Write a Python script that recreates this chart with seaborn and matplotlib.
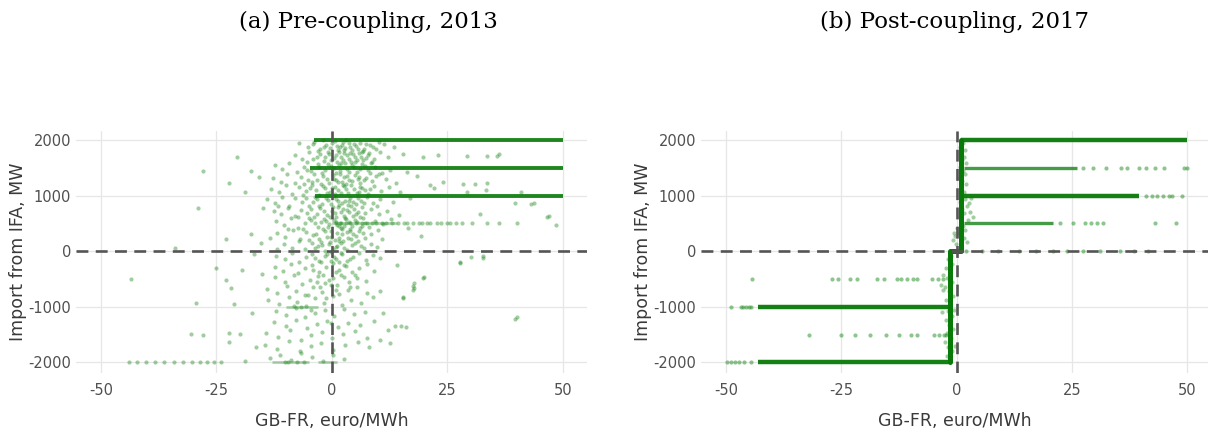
import numpy as np
import pandas as pd
import matplotlib
matplotlib.use("Agg")
import matplotlib.pyplot as plt
import seaborn as sns

# ---------------- data ----------------
titles = ["(a) Pre-coupling, 2013", "(b) Post-coupling, 2017"]
x_ticks = [-50, -25, 0, 25, 50]
y_ticks = [-2000, -1000, 0, 1000, 2000]
x_label = "GB-FR, euro/MWh"
y_label = "Import from IFA, MW"

# (a) dense horizontal bands (y, x start, x end)
band_a_y = [2000, 1500, 1000]
band_a_x0 = [-3.8, -4.7, -3.7]
band_a_x1 = [50.0, 50.0, 50.0]
# (a) faint short clusters (y, x start, x end)
faint_a_y = [-1000, -2000, -2000, 500]
faint_a_x0 = [-10.0, -13.0, -3.0, 0.0]
faint_a_x1 = [-3.0, -5.0, 1.0, 14.0]

# (a) scattered cloud, upper half (x, y)
cloud_a_upper = [
    (-5.1,1880),(-3.8,1960),(-2.5,1830),(-1.2,1910),(-0.4,1850),(0.6,1975),(1.3,1820),(2.1,1905),(2.9,1860),
    (3.6,1940),(4.4,1810),(5.2,1890),(6.1,1950),(7.0,1840),(8.3,1900),(9.6,1830),(11.2,1920),(1.8,1870),
    (3.1,1995),(4.8,1925),(-2.0,1990),(6.8,1805),(10.1,1960),(13.5,1870),(-7.2,1950),(2.5,1815),
    (-8.1,1720),(-6.4,1650),(-4.9,1780),(-3.3,1690),(-1.8,1620),(-0.7,1750),(0.5,1680),(1.6,1790),(2.4,1640),
    (3.3,1730),(4.1,1610),(5.0,1700),(5.9,1770),(6.7,1630),(7.8,1720),(9.0,1660),(10.4,1780),(12.1,1700),
    (-2.6,1740),(1.1,1605),(3.9,1770),(6.2,1690),(8.6,1610),(-5.5,1610),(15.3,1750),
    (-12.3,1540),(-10.8,1470),(-9.2,1580),(-7.5,1420),(-6.1,1510),(-4.6,1440),(-3.0,1570),(-1.5,1460),(-0.3,1530),
    (0.9,1410),(2.0,1590),(3.2,1480),(4.3,1550),(5.5,1430),(6.6,1560),(7.9,1450),(9.3,1520),(10.9,1400),
    (-2.2,1405),(1.5,1545),(4.9,1595),(8.5,1580),(12.6,1460),(16.2,1420),
    (-12.8,1310),(-11.1,1250),(-9.7,1380),(-8.0,1220),(-6.6,1340),(-5.2,1270),(-3.9,1390),(-2.4,1210),(-1.0,1300),
    (0.2,1360),(1.4,1240),(2.6,1330),(3.7,1280),(4.9,1370),(6.0,1230),(7.3,1320),(8.7,1260),(10.2,1390),
    (11.8,1290),(-4.4,1235),(0.8,1285),(3.0,1205),(5.6,1295),(9.5,1345),(13.9,1230),(18.4,1350),(-15.8,1330),
    (-13.2,1120),(-11.5,1060),(-10.0,1180),(-8.6,1030),(-7.1,1150),(-5.7,1080),(-4.3,1190),(-2.9,1010),(-1.6,1130),
    (-0.5,1070),(0.7,1160),(1.9,1040),(3.0,1110),(4.2,1190),(5.4,1050),(6.5,1140),(7.7,1020),(9.0,1170),
    (10.6,1090),(12.3,1150),(-6.3,1015),(2.3,1185),(7.2,1095),(14.8,1060),(22.1,1130),(-3.5,1100),
    (-14.1,930),(-12.4,870),(-10.9,980),(-9.3,820),(-7.9,950),(-6.4,890),(-5.0,810),(-3.6,970),(-2.1,850),
    (-0.8,920),(0.4,990),(1.6,830),(2.8,900),(4.0,960),(5.1,840),(6.3,910),(7.6,980),(8.9,860),(10.5,940),
    (-11.7,805),(-4.2,880),(3.4,825),(9.7,810),(13.2,890),(16.8,960),
    (-12.6,720),(-11.0,660),(-9.5,780),(-8.1,630),(-6.8,740),(-5.3,690),(-3.9,610),(-2.5,770),(-1.1,650),
    (0.1,720),(1.3,790),(2.5,640),(3.6,700),(4.8,760),(6.0,620),(7.2,690),(8.5,750),(10.1,670),(11.9,730),
    (-7.4,605),(0.9,615),(5.7,710),(14.6,650),
    (-12.1,540),(-10.4,470),(-8.8,590),(-7.3,420),(-5.9,510),(-4.5,560),(-3.1,440),(-1.7,580),(-0.6,480),
    (0.8,530),(2.0,410),(3.1,570),(4.3,460),(5.5,520),(6.8,590),(8.0,430),(9.4,550),(11.0,480),
    (-9.6,405),(-2.3,515),(1.5,455),(6.1,415),(12.8,570),(16.5,420),
    (-11.8,320),(-10.1,260),(-8.5,380),(-7.0,220),(-5.6,340),(-4.2,290),(-2.8,210),(-1.4,370),(-0.2,250),
    (1.0,330),(2.2,390),(3.4,230),(4.6,310),(5.9,360),(7.1,240),(8.4,300),(9.9,380),(-13.5,230),
    (-6.2,395),(0.6,205),(3.9,355),(10.8,215),(-17.5,305),(19.3,280),
    (-10.3,120),(-8.7,60),(-7.2,180),(-5.8,30),(-4.4,150),(-3.0,90),(-1.6,10),(-0.4,170),(0.8,70),
    (2.0,140),(3.2,20),(4.4,110),(5.7,190),(7.0,50),(8.4,130),(9.8,80),(-12.0,40),(-2.2,110),(1.5,185),
    (6.2,95),(-15.3,145),
]

# (a) the dense core of the cloud (x, y)
cloud_a_core = [
    (-4.2,1930),(-1.7,1870),(0.1,1940),(1.0,1890),(2.3,1960),(3.9,1875),(5.6,1840),(7.4,1925),(8.9,1870),
    (-3.1,1795),(-0.9,1780),(0.9,1730),(2.7,1765),(4.6,1745),(6.4,1790),(8.1,1760),(-1.4,1690),(1.9,1700),
    (3.7,1660),(5.4,1640),(7.3,1670),(-4.0,1650),(-0.1,1630),(2.9,1585),(4.7,1505),(6.1,1470),(-2.7,1510),
    (-0.8,1570),(0.5,1490),(1.8,1440),(3.6,1420),(-5.3,1460),(7.1,1530),(8.2,1410),(-1.9,1350),(0.4,1300),
    (1.7,1380),(3.3,1350),(4.4,1260),(5.8,1340),(7.0,1270),(-3.2,1280),(-0.6,1220),(2.2,1250),(-6.0,1200),
    (-2.0,1170),(0.0,1140),(1.2,1100),(2.7,1170),(4.8,1120),(6.0,1160),(8.3,1110),(-4.8,1130),(-1.0,1040),
    (0.6,1030),(3.5,1050),(5.9,1070),(-3.3,930),(-1.3,960),(0.9,940),(2.1,870),(3.7,910),(5.6,950),
    (7.0,870),(-5.6,950),(-0.2,850),(1.3,900),(4.6,880),(-2.8,820),(0.3,800),(2.3,760),(4.1,810),(6.6,790),
    (-4.5,760),(-1.8,720),(0.6,680),(1.9,710),(3.2,740),(5.3,660),(-3.2,660),(-0.4,620),(2.9,590),(4.5,640),
    (-5.0,590),(-1.2,540),(0.4,560),(1.7,500),(3.7,520),(5.0,560),(7.6,500),(-3.6,500),(-0.9,430),(1.1,470),
    (2.6,450),(4.0,400),(6.5,460),(-2.0,390),(-0.1,360),(2.1,300),(3.3,350),(5.2,280),(-3.4,300),(-1.0,260),
    (1.5,230),(4.1,220),(6.7,330),(-4.9,200),(-2.4,160),(-0.6,120),(1.1,100),(2.7,60),(4.9,140),(-3.7,50),
    (0.3,30),(2.4,190),(-1.1,-60),(0.5,-110),(1.9,-30),(3.8,-140),(-2.4,-200),(-0.2,-170),(2.6,-250),
    (-4.1,-330),(-1.9,-420),(0.8,-380),(2.7,-470),(4.9,-420),(-3.3,-560),(-0.7,-520),(1.1,-600),(3.9,-640),
    (-2.6,-650),(-5.1,-780),(-1.2,-840),(0.9,-700),(-6.8,-1010),(-4.6,-1050),(-8.2,-980),(-0.2,-1290),
]

# (a) scattered cloud, lower half (x, y)
cloud_a_lower = [
    (-12.1,-80),(-10.2,-150),(-8.6,-30),(-7.1,-190),(-5.7,-110),(-4.3,-50),(-2.9,-170),(-1.5,-90),(-0.3,-20),
    (0.9,-140),(2.1,-60),(3.3,-180),(4.6,-100),(5.9,-30),(7.3,-160),(8.8,-70),(10.4,-120),(-3.6,-125),
    (1.6,-195),(-16.8,-60),
    (-12.4,-280),(-10.5,-350),(-8.9,-230),(-7.4,-390),(-5.9,-310),(-4.4,-250),(-2.9,-370),(-1.3,-290),(0.2,-220),
    (1.6,-340),(3.0,-260),(4.4,-380),(5.9,-300),(7.5,-240),(9.2,-360),(-19.5,-330),(14.1,-250),
    (-12.3,-470),(-10.1,-550),(-8.2,-430),(-6.5,-590),(-4.8,-510),(-3.1,-450),(-1.4,-570),(0.3,-490),(2.0,-420),
    (3.7,-560),(5.5,-480),(7.4,-530),(-15.2,-410),
    (-14.0,-680),(-11.8,-750),(-9.7,-620),(-7.8,-710),(-5.9,-790),(-4.0,-650),(-2.1,-730),(-0.3,-610),(1.5,-770),
    (3.4,-690),(5.4,-640),(7.6,-760),(10.5,-720),
    (-13.8,-880),(-11.5,-950),(-9.4,-830),(-7.5,-910),(-5.6,-990),(-3.6,-850),(-1.7,-930),(0.2,-810),(2.1,-970),
    (4.1,-870),(6.3,-940),(8.8,-820),
    (-12.2,-1080),(-9.9,-1150),(-7.8,-1030),(-5.8,-1190),(-3.7,-1110),(-1.6,-1060),(0.5,-1170),(2.6,-1040),
    (4.8,-1130),(7.1,-1090),(-17.2,-1120),(11.0,-1103),
    (-12.5,-1280),(-10.0,-1350),(-7.7,-1230),(-5.4,-1390),(-3.2,-1310),(-1.0,-1250),(1.2,-1370),(3.5,-1290),
    (6.0,-1330),(9.2,-1260),(12.1,-1410),(13.6,-1338),(15.0,-1338),(16.0,-1356),
    (-14.2,-1470),(-11.6,-1540),(-9.1,-1420),(-6.8,-1590),(-4.5,-1510),(-2.2,-1450),(0.1,-1570),(2.4,-1490),
    (4.9,-1430),(7.6,-1560),(10.3,-1600),
    (-14.5,-1680),(-11.9,-1750),(-9.3,-1620),(-6.9,-1790),(-4.6,-1710),(-2.3,-1650),(0.2,-1770),(2.8,-1690),
    (5.6,-1640),(-16.5,-1730),(8.1,-1720),(12.6,-1646),
    (-13.4,-1920),(-11.2,-1870),(-8.9,-1950),(-6.6,-1830),(-4.3,-1900),(-2.0,-1970),(0.3,-1860),(2.6,-1940),
    (-10.2,-1990),(-7.5,-2000),(-9.5,-1985),(-6.0,-1995),
]

# (a) isolated outliers (x, y)
outliers_a = [
    (-28.0,1445),(-29.0,770),(-43.4,-494),(-29.4,-933),(-30.5,-1481),(-28.0,-1505),(-22.3,1216),(-20.5,1698),
    (-18.8,1071),(-17.6,1445),(-15.0,770),(-34.0,60),(-23.0,210),(-25.0,-300),(-23.0,-510),(-21.75,-660),
    (-21.2,-950),(-22.3,-1480),(-19.8,-1490),(-22.2,-1625),(-18.8,-1970),(40.0,-1190),(17.7,-580),(17.8,-660),
    (19.9,-470),(15.3,-830),(27.8,-200),(32.8,-85),(48.4,470),(47.0,630),(43.7,870),(36.2,1740),
    (19.7,1700),(23.0,1736),(29.2,1718),(33.5,1718),(35.7,1718),(28.4,1210),(31.0,1210),(33.5,1230),
    (29.2,1067),(33.3,1100),(41.0,1067),(21.2,1190),(24.0,1250),(32.0,670),(39.6,870),(43.0,850),
    (46.5,615),(27.7,-217),(30.0,-108),(32.7,-127),(39.6,-1212),(19.7,-488),(17.5,-633),(17.5,-705),(15.4,-850),
]

# (a) sparse points lying on the 500 MW and -2000 MW levels
row500_a_x = [0.8,1.9,3.1,4.0,5.3,6.4,7.2,8.6,9.5,10.9,11.8,13.0,14.2,15.6,16.3,17.5,18.8,19.4,20.6,21.3,
              22.7,23.5,24.9,25.6,26.8,28.1,30.4,33.5,36.2,40.1]
rowm2000_a_x = [-44.0,-42.1,-40.3,-38.2,-36.4,-34.1,-32.3,-30.2,-28.5,-27.1,-25.6,-24.0]

# (b) step (coupled) line: x, y vertices
step_b_x = [-1.5, -1.5, 1.0, 1.0]
step_b_y = [-2000, 0, 0, 2000]
# (b) dense horizontal bands
band_b_y = [2000, 1000, -1000, -2000]
band_b_x0 = [1.0, 1.0, -43.0, -43.0]
band_b_x1 = [50.0, 39.6, -1.5, -1.5]
# (b) lighter bands
light_b_y = [1500, 500]
light_b_x0 = [1.5, 1.5]
light_b_x1 = [26.0, 21.0]
# (b) sparse points on levels
row1500_b_x = [27.3, 29.5, 32.3, 35.6, 37.0, 39.5, 41.0, 43.0, 45.0, 49.2, 50.0]
row1000_b_x = [41.0, 42.3, 43.5, 44.7, 46.0, 46.8, 48.9]
row500_b_x = [22.5, 25.3, 27.9, 29.2, 30.4, 31.8, 43.0, 47.6]
row0_b_x = [2.1, 5.5, 8.9, 13.5, 17.2, 20.8, 24.0, 27.3, 31.0, 35.4, 38.5, 41.4]
rowm500_b_x = [-44.3, -27.0, -25.6, -23.0, -21.5, -17.2, -15.8, -13.0, -12.1, -10.8, -9.5, -8.6, -5.4, -4.1, -2.9]
rowm1000_b_x = [-49.0, -46.8, -46.2, -45.6, -45.0, -44.5]
rowm1500_b_x = [-32.0, -25.0, -22.0, -18.7, -15.2, -12.4, -9.8, -8.6, -4.9, -3.8, -2.8, -2.2]
rowm2000_b_x = [-49.8, -48.9, -48.0, -47.1, -46.0, -44.6]
# (b) scatter hugging the step
cloud_b = [
    (1.3,1950),(0.7,1880),(1.8,1820),(0.9,1760),(1.6,1700),(1.1,1640),(2.0,1580),(0.8,1520),(1.4,1440),
    (1.9,1380),(0.6,1320),(1.2,1260),(2.1,1200),(0.9,1130),(1.5,1060),(1.8,940),(0.7,880),(2.3,820),
    (1.1,760),(1.7,690),(0.8,620),(2.4,560),(1.3,450),(1.9,380),(0.6,300),(1.5,230),(2.2,160),(1.0,90),
    (2.8,700),(3.5,620),(2.6,870),(3.1,950),(0.3,350),(-0.4,270),(-0.8,200),(-0.2,130),(0.1,420),(-0.6,330),
    (-1.2,-80),(-1.9,-150),(-0.9,-230),(-2.3,-310),(-1.5,-400),(-2.0,-480),(-1.1,-560),(-2.6,-640),
    (-1.7,-720),(-0.8,-800),(-2.2,-880),(-1.4,-960),(-1.9,-1080),(-1.0,-1160),(-2.4,-1240),(-1.6,-1320),
    (-0.7,-1400),(-2.0,-1480),(-1.3,-1560),(-2.5,-1640),(-1.8,-1720),(-0.9,-1800),(-2.1,-1880),(-1.4,-1950),
    (-3.0,-420),(-3.4,-600),(-2.9,-700),(-3.2,-1100),(-0.5,-1050),(-0.3,-1700),
]

# ---------------- styling ----------------
sns.set_theme(style="whitegrid")
plt.rcParams["font.family"] = ["DejaVu Sans"]

GREEN = "#087a08"
DOT = "#1f8a1f"
GRID = "#e6e6e6"
DASH = "#555555"

fig = plt.figure(figsize=(12.08, 4.30), dpi=100)
ax_a = fig.add_axes([0.0633, 0.1326, 0.423, 0.5628])
ax_b = fig.add_axes([0.5807, 0.1326, 0.4193, 0.5628])


def pts(pairs):
    return pd.DataFrame(pairs, columns=["x", "y"])


def level(xs, y):
    return pd.DataFrame({"x": xs, "y": [y] * len(xs)})


def style_axes(ax, xlim):
    ax.set_xlim(*xlim)
    ax.set_ylim(-2190, 2160)
    ax.set_xticks(x_ticks)
    ax.set_yticks(y_ticks)
    ax.set_xticklabels([str(v) for v in x_ticks])
    ax.set_yticklabels([str(v) for v in y_ticks])
    ax.grid(True, color=GRID, linewidth=0.9)
    ax.set_axisbelow(True)
    for s in ax.spines.values():
        s.set_visible(False)
    ax.tick_params(axis="both", length=0, labelsize=10.5, labelcolor="#505050")
    ax.tick_params(axis="x", pad=7)
    ax.tick_params(axis="y", pad=4)
    ax.set_xlabel(x_label, fontsize=12.5, color="#3a3a3a", labelpad=10)
    ax.set_ylabel(y_label, fontsize=12.5, color="#3a3a3a", labelpad=1)
    ax.set_facecolor("white")
    ax.axhline(0, color=DASH, lw=1.9, dashes=(4.5, 2.8), zorder=5)
    ax.axvline(0, color=DASH, lw=1.9, dashes=(4.5, 2.8), zorder=5)


# ---- panel (a)
sc = dict(color=DOT, s=9, alpha=0.42, linewidth=0, legend=False)
sns.scatterplot(data=pts(cloud_a_upper), x="x", y="y", ax=ax_a, **sc)
sns.scatterplot(data=pts(cloud_a_core), x="x", y="y", ax=ax_a, **sc)
sns.scatterplot(data=pts(cloud_a_lower), x="x", y="y", ax=ax_a, **sc)
sns.scatterplot(data=pts(outliers_a), x="x", y="y", ax=ax_a, **sc)
sns.scatterplot(data=level(row500_a_x, 500), x="x", y="y", ax=ax_a, **sc)
sns.scatterplot(data=level(rowm2000_a_x, -2000), x="x", y="y", ax=ax_a, **sc)
for y, x0, x1 in zip(band_a_y, band_a_x0, band_a_x1):
    ax_a.plot([x0, x1], [y, y], color=GREEN, lw=2.8, alpha=0.9, solid_capstyle="butt", zorder=3)
for y, x0, x1 in zip(faint_a_y, faint_a_x0, faint_a_x1):
    ax_a.plot([x0, x1], [y, y], color=DOT, lw=2.0, alpha=0.35, solid_capstyle="butt", zorder=3)
style_axes(ax_a, (-55.3, 55.3))

# ---- panel (b)
sns.scatterplot(data=pts(cloud_b), x="x", y="y", ax=ax_b, **sc)
for xs, y in [(row1500_b_x, 1500), (row1000_b_x, 1000), (row500_b_x, 500), (row0_b_x, 0),
              (rowm500_b_x, -500), (rowm1000_b_x, -1000), (rowm1500_b_x, -1500), (rowm2000_b_x, -2000)]:
    sns.scatterplot(data=level(xs, y), x="x", y="y", ax=ax_b, color=DOT, s=9, alpha=0.5,
                    linewidth=0, legend=False)
for y, x0, x1 in zip(light_b_y, light_b_x0, light_b_x1):
    ax_b.plot([x0, x1], [y, y], color=GREEN, lw=2.4, alpha=0.75, solid_capstyle="butt", zorder=3)
for y, x0, x1 in zip(band_b_y, band_b_x0, band_b_x1):
    ax_b.plot([x0, x1], [y, y], color=GREEN, lw=3.2, alpha=0.95, solid_capstyle="butt", zorder=3)
sns.lineplot(x=step_b_x, y=step_b_y, sort=False, estimator=None, ax=ax_b, color=GREEN, lw=3.6, zorder=4)
style_axes(ax_b, (-55.3, 54.5))

# ---- titles
for xpos, t in zip([368 / 1208, 955 / 1208], titles):
    fig.text(xpos, 1 - 22 / 430, t, ha="center", va="center", fontsize=16.5,
             family=["DejaVu Serif"], color="black")

fig.savefig("out.png", dpi=100, facecolor="white")
